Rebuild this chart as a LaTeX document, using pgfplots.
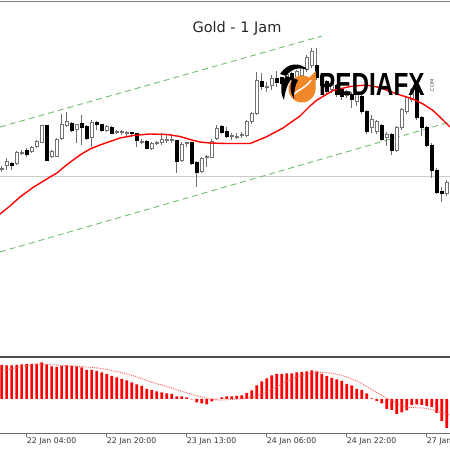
\documentclass[border=0pt]{standalone}
\usepackage{fontspec}
\setmainfont{DejaVu Sans}
\newfontfamily\logofont{Liberation Sans}
\usepackage{graphicx}
\usepackage{pgfplots}
\usepackage{pgfplotstable}
\pgfplotsset{compat=1.18}
\definecolor{chgreen}{RGB}{110,190,110}
\definecolor{wickgray}{RGB}{110,110,110}
\definecolor{bodygray}{RGB}{115,115,115}
\definecolor{logoorange}{RGB}{240,135,40}
\definecolor{framegray}{RGB}{110,110,110}

% candles in screen units (y grows downward): wick top, body top, body bottom, wick bottom
\pgfplotstableread{
i wt bt bb wb
0 166 168 169 172
1 158.3 161 165 170
3 150.7 152.7 163.3 165
4 150 152.2 153.2 155
6 146 147.3 151.7 153.3
7 140 141.7 146.7 148.3
8 125 126 142.7 143.3
10 150 151.7 156.7 158.3
11 138.3 139.3 156 156.7
12 114 125 138.3 140
13 111.7 121.7 126 126.7
15 124 125 130 143.3
18 120 122.7 137.3 147.3
21 125 126.7 130.7 132.3
23 130 131.2 132.2 134
24 130 131.2 132.2 135
25 131 132.8 133.8 136
28 139.3 141.2 142.2 144
30 141.7 143.3 148.3 150
31 140.7 142.2 143.2 145
32 133 139.3 142.7 145
33 134 139.5 140.5 142.7
34 134 139.5 140.5 142.7
36 141.7 144 160 161.7
37 141.7 142.8 143.8 146.7
40 156.7 158.3 171.7 173.3
41 155 156.8 157.8 166.7
42 139.3 141.7 157.3 158.3
43 125 128.3 138.3 140
46 133 135.5 136.5 140
47 133 136.5 137.5 139
48 132 135 136 138
49 120 122 136 137
50 112 114 122 124
51 72 81 114 115
53 82 86.5 87.5 92
54 75 79 86 90
57 73 75 82 84
59 70 72 78 80
60 66 68 76 78
61 55 58 70 72
62 48 52 66 68
66 82 84 90 93
69 90 92 96 98
71 90 95 102 106
74 115 120 128 133
75 120 122 132 134
77 132 135 138 146
79 126 128 150 152
80 108 110 128 130
81 96 98 112 114
82 88 90 100 102
89 180 182 193 196
}\bull
\pgfplotstableread{
i wt bt bb wb
2 161.7 163.3 165 170
5 148.3 150.7 154 156.7
9 125 126 160 161
14 121.7 123.3 130.7 131.7
16 115 124 127.3 145
17 125 126.7 138.3 140
19 120.7 122.7 125 130
20 124 125 130.7 131.7
22 126 127.3 133.3 134
26 131.7 133 134 136.7
27 132.7 133.3 140.7 146.7
29 140 141.7 148.3 149
35 140 140.7 161.7 173.3
38 141.7 142.7 163.3 165
39 160.7 162.7 172.7 187.3
44 125 127 133 134
45 127 132 137 138
52 73 82 87 90
55 71 79 83 87
56 77 78 84 86
58 72 74 80 82
63 48 66 78 80
64 74 76 86 88
65 80 82 92 94
67 84 86 95 97
68 88 90 97 100
70 92 95 100 108
72 94 97 112 114
73 110 112 132 134
76 124 126 139 141
78 133 135 150 155
83 86 88 118 120
84 116 118 128 136
85 126 128 145 147
86 143 145 170 178
87 168 170 192 194
88 187 191 193 202
}\bear
\pgfplotstableread{
i v
0 34
1 33.5
2 33.5
3 34
4 34.5
5 35
6 35
7 35
8 36.5
9 34.5
10 32.5
11 32
12 33
13 33.5
14 33
15 32.5
16 31.5
17 29
18 29
19 28
20 26.5
21 25
22 23
23 21.5
24 20
25 18.5
26 16.5
27 14.5
28 13
29 10
30 9
31 7.5
32 6.5
33 5.5
34 5
35 2.5
36 2.5
37 1.5
38 -0.5
39 -3.5
40 -4.5
41 -5.5
42 -2.5
43 -0.5
44 1.5
45 2.5
46 2.5
47 3
48 3.5
49 6
50 8.5
51 13.5
52 17.5
53 20.5
54 23.5
55 25
56 25
57 25.5
58 25.5
59 26.5
60 27
61 27.5
62 28.5
63 27.5
64 25
65 23
66 21
67 19.5
68 18
69 15
70 13.5
71 10
72 9
73 5.5
74 0.5
75 -2
76 -4.5
77 -10
78 -11
79 -15
80 -13.5
81 -11.5
82 -6
83 -5.5
84 -6
85 -7
86 -8
87 -14
88 -22
89 -29
}\macd

\begin{document}
\begin{tikzpicture}
\useasboundingbox (0,0) rectangle (450pt,450pt);
\begin{axis}[
  name=main, at={(0pt,92.5pt)}, anchor=south west,
  scale only axis, width=450pt, height=356pt,
  xmin=-0.34, xmax=89.66, ymin=1.5, ymax=357.5, y dir=reverse,
  hide axis,
]
\addplot[gray!40, line width=0.8pt] coordinates {(-0.34,176) (89.66,176)};
\addplot[chgreen, dash pattern=on 6pt off 4pt, line width=0.9pt] coordinates {(-0.34,127) (64.06,36)};
\addplot[chgreen, dash pattern=on 6pt off 4pt, line width=0.9pt] coordinates {(-0.34,252) (89.66,122)};
\addplot[wickgray, line width=0.9pt, quiver={u=0, v=\thisrow{wb}-\thisrow{wt}}] table[x=i, y=wt] {\bull};
\addplot[wickgray, line width=0.9pt, quiver={u=0, v=\thisrow{wb}-\thisrow{wt}}] table[x=i, y=wt] {\bear};
\addplot[bodygray, line width=3.6pt, quiver={u=0, v=\thisrow{bb}-\thisrow{bt}+1}] table[x=i, y expr=\thisrow{bt}-0.5] {\bull};
\addplot[white, line width=1.8pt, quiver={u=0, v=\thisrow{bb}-\thisrow{bt}-1}] table[x=i, y expr=\thisrow{bt}+0.5] {\bull};
\addplot[black, line width=3.6pt, quiver={u=0, v=\thisrow{bb}-\thisrow{bt}+1}] table[x=i, y expr=\thisrow{bt}-0.5] {\bear};
\addplot[red, line width=1.4pt] coordinates {
(-0.34,214) (1.66,206) (3.66,197) (6.26,187.5) (9.66,177) (11.06,173) (13.06,164.5)
(15.66,155) (17.66,149) (19.66,145) (21.66,141.5) (23.66,138) (26.26,135.5) (29.66,134)
(33.06,134.5) (35.66,136.5) (37.66,139.5) (39.66,142) (41.66,143) (44.66,143.5) (49.66,143.5)
(52.86,137) (56.26,128) (59.66,116) (61.66,106) (63.06,100) (66.26,90.5) (69.66,86.5)
(72.86,85) (75.66,87.5) (77.66,91.5) (79.66,95) (82.26,99) (84.26,104) (86.26,110.5)
(88.26,120) (89.66,127)};
\end{axis}

\begin{axis}[
  name=sub, at={(0pt,17pt)}, anchor=south west,
  scale only axis, width=450pt, height=75.5pt,
  xmin=-0.34, xmax=89.66, ymin=-34, ymax=41.5,
  axis x line*=bottom, axis y line=none,
  axis line style={framegray, line width=0.8pt},
  xtick={5,21,37,53,69,85},
  xticklabels={22 Jan 04:00, 22 Jan 20:00, 23 Jan 13:00, 24 Jan 06:00, 24 Jan 22:00, 27 Jan 15:00},
  xticklabel style={anchor=north west, font=\fontsize{7.8}{9}\selectfont, text=black!80, inner sep=0pt, yshift=-1pt},
  tick align=outside, major tick length=4pt,
  x tick style={framegray, line width=0.8pt},
  ytick=\empty,
]
\addplot[ybar, bar width=2.6pt, fill=red, draw=none] table[x=i, y=v] {\macd};
\addplot[red!65, densely dotted, line width=0.9pt, smooth] coordinates {
(-0.34,27.3) (3,31.5) (6.3,34.7) (8.3,34.7) (13.1,33.3) (16.3,32.3) (19.7,30.7) (23.1,27.3)
(26.3,23.3) (29.7,17.3) (33.1,12.3) (36.3,7.3) (39.7,2.3) (43.1,-1) (46.3,-0.3) (49.7,1.3)
(53.1,7.3) (56.3,15.7) (59.7,23.3) (63.7,26.7) (67.7,24) (71.3,17.3) (74.7,7.3) (77.7,-1)
(80.7,-7.7) (84.7,-9.3) (87.3,-12.7) (89.66,-16)};
\end{axis}

\draw[framegray!70!black, line width=2pt] (0,92.5pt) -- (450pt,92.5pt);
\draw[gray, line width=1pt] (0,448.5pt) -- (450pt,448.5pt);

\node[anchor=base, font=\fontsize{14.5}{16}\selectfont, text=black!85] at (237pt,417pt) {Gold - 1 Jam};

\begin{scope}[x=1pt,y=1pt]
\fill[logoorange] (302,361) circle (13.5);
\fill[logoorange] (309,372) -- (316,379) -- (315.5,360) -- cycle;
\draw[white, line width=1.5pt] (293,355) .. controls (299,361) and (306,362) .. (311,370);
\fill[black] (280,376) .. controls (288,388) and (300,388) .. (308,380) .. controls (300,383) and (292,382) .. (286,374) -- cycle;
\fill[black] (286,374) .. controls (280,366) and (280,357) .. (284,350) .. controls (285,358) and (287,366) .. (292,372) -- cycle;
\fill[black] (293,372) .. controls (289,365) and (290,357) .. (294,351) .. controls (294,358) and (295,365) .. (298,370) -- cycle;
\node[anchor=base west, inner sep=0pt] at (319,354) {\scalebox{0.76}[1]{\logofont\bfseries\fontsize{32}{34}\selectfont PEDIAFX}};
\node[rotate=90, font=\fontsize{5}{6}\selectfont, text=black!70, inner sep=0pt] at (432,364) {.COM};
\end{scope}
\end{tikzpicture}
\end{document}
